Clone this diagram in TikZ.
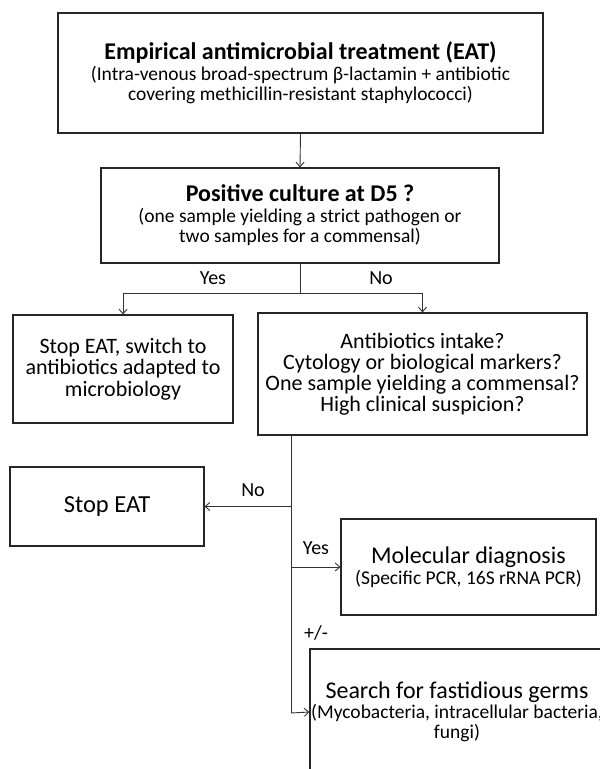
\documentclass[tikz,border=0pt]{standalone}
\usepackage{fontspec}
\setmainfont{Carlito}
\usetikzlibrary{arrows.meta,calc}
\begin{document}
\begin{tikzpicture}[x=1pt,y=-1pt,
  box/.style={draw=black!85,line width=1.2pt,inner sep=0pt,align=center,text=black},
  conn/.style={draw=black!80,line width=0.9pt},
  arr/.style={conn,-{Straight Barb[length=4.5pt,width=8pt,line width=0.9pt]}},
  lbl/.style={font=\fontsize{20}{22}\selectfont,inner sep=0pt,text=black}]
\clip (0,0) rectangle (600,769);
\fill[white] (0,0) rectangle (600,769);
\node[box,minimum width=485,minimum height=120,font=\fontsize{19.5}{20.5}\selectfont] (eat) at (300.5,73)
  {{\bfseries\fontsize{24}{26}\selectfont Empirical antimicrobial treatment (EAT)}\\
   (Intra-venous broad-spectrum β-lactamin + antibiotic\\
   covering methicillin-resistant staphylococci)};
\node[box,minimum width=398,minimum height=95,font=\fontsize{19.5}{20.5}\selectfont] (pos) at (300,215.5)
  {{\bfseries\fontsize{24}{26}\selectfont Positive culture at D5 ?}\\
   (one sample yielding a strict pathogen or\\
   two samples for a commensal)};
\node[box,minimum width=220,minimum height=108,font=\fontsize{22}{21.5}\selectfont] (switch) at (123,369)
  {Stop EAT, switch to\\antibiotics adapted to\\microbiology};
\node[box,minimum width=329,minimum height=122,font=\fontsize{22}{21}\selectfont] (quest) at (422.5,374)
  {Antibiotics intake?\\Cytology or biological markers?\\One sample yielding a commensal?\\High clinical suspicion?};
\node[box,minimum width=194,minimum height=79,font=\fontsize{24.5}{26}\selectfont] (stop) at (107,506.5) {Stop EAT};
\node[box,minimum width=255,minimum height=96,font=\fontsize{19.5}{20}\selectfont] (mol) at (468.5,567)
  {{\fontsize{24}{26}\selectfont Molecular diagnosis}\\[1pt](Specific PCR, 16S rRNA PCR)};
\node[box,minimum width=294,minimum height=126,font=\fontsize{19.5}{20}\selectfont] (search) at (457,712)
  {{\fontsize{24}{26}\selectfont Search for fastidious germs}\\(Mycobacteria, intracellular bacteria,\\fungi)};
% connectors
\draw[arr] (eat.south) -- (pos.north);
\coordinate (split) at (300,293);
\coordinate (trunk) at (291,713);
\draw[conn] (pos.south) -- (split);
\draw[arr] (split) -| (switch.north);
\draw[arr] (split) -| (quest.north);
\draw[conn] (quest.south -| trunk) -- (trunk);
\draw[arr] (stop.east -| trunk) -- (stop.east);
\draw[arr] (mol.west -| trunk) -- (mol.west);
\draw[arr] (trunk) -- (search.west);
% labels
\node[lbl] (lyes1) at (213,278) {Yes};
\node[lbl] (lno1) at (381,278) {No};
\node[lbl] (lno2) at (253,490) {No};
\node[lbl] (lyes2) at (316,548) {Yes};
\node[lbl] (lpm) at (316,633) {+/-};
\end{tikzpicture}
\end{document}
